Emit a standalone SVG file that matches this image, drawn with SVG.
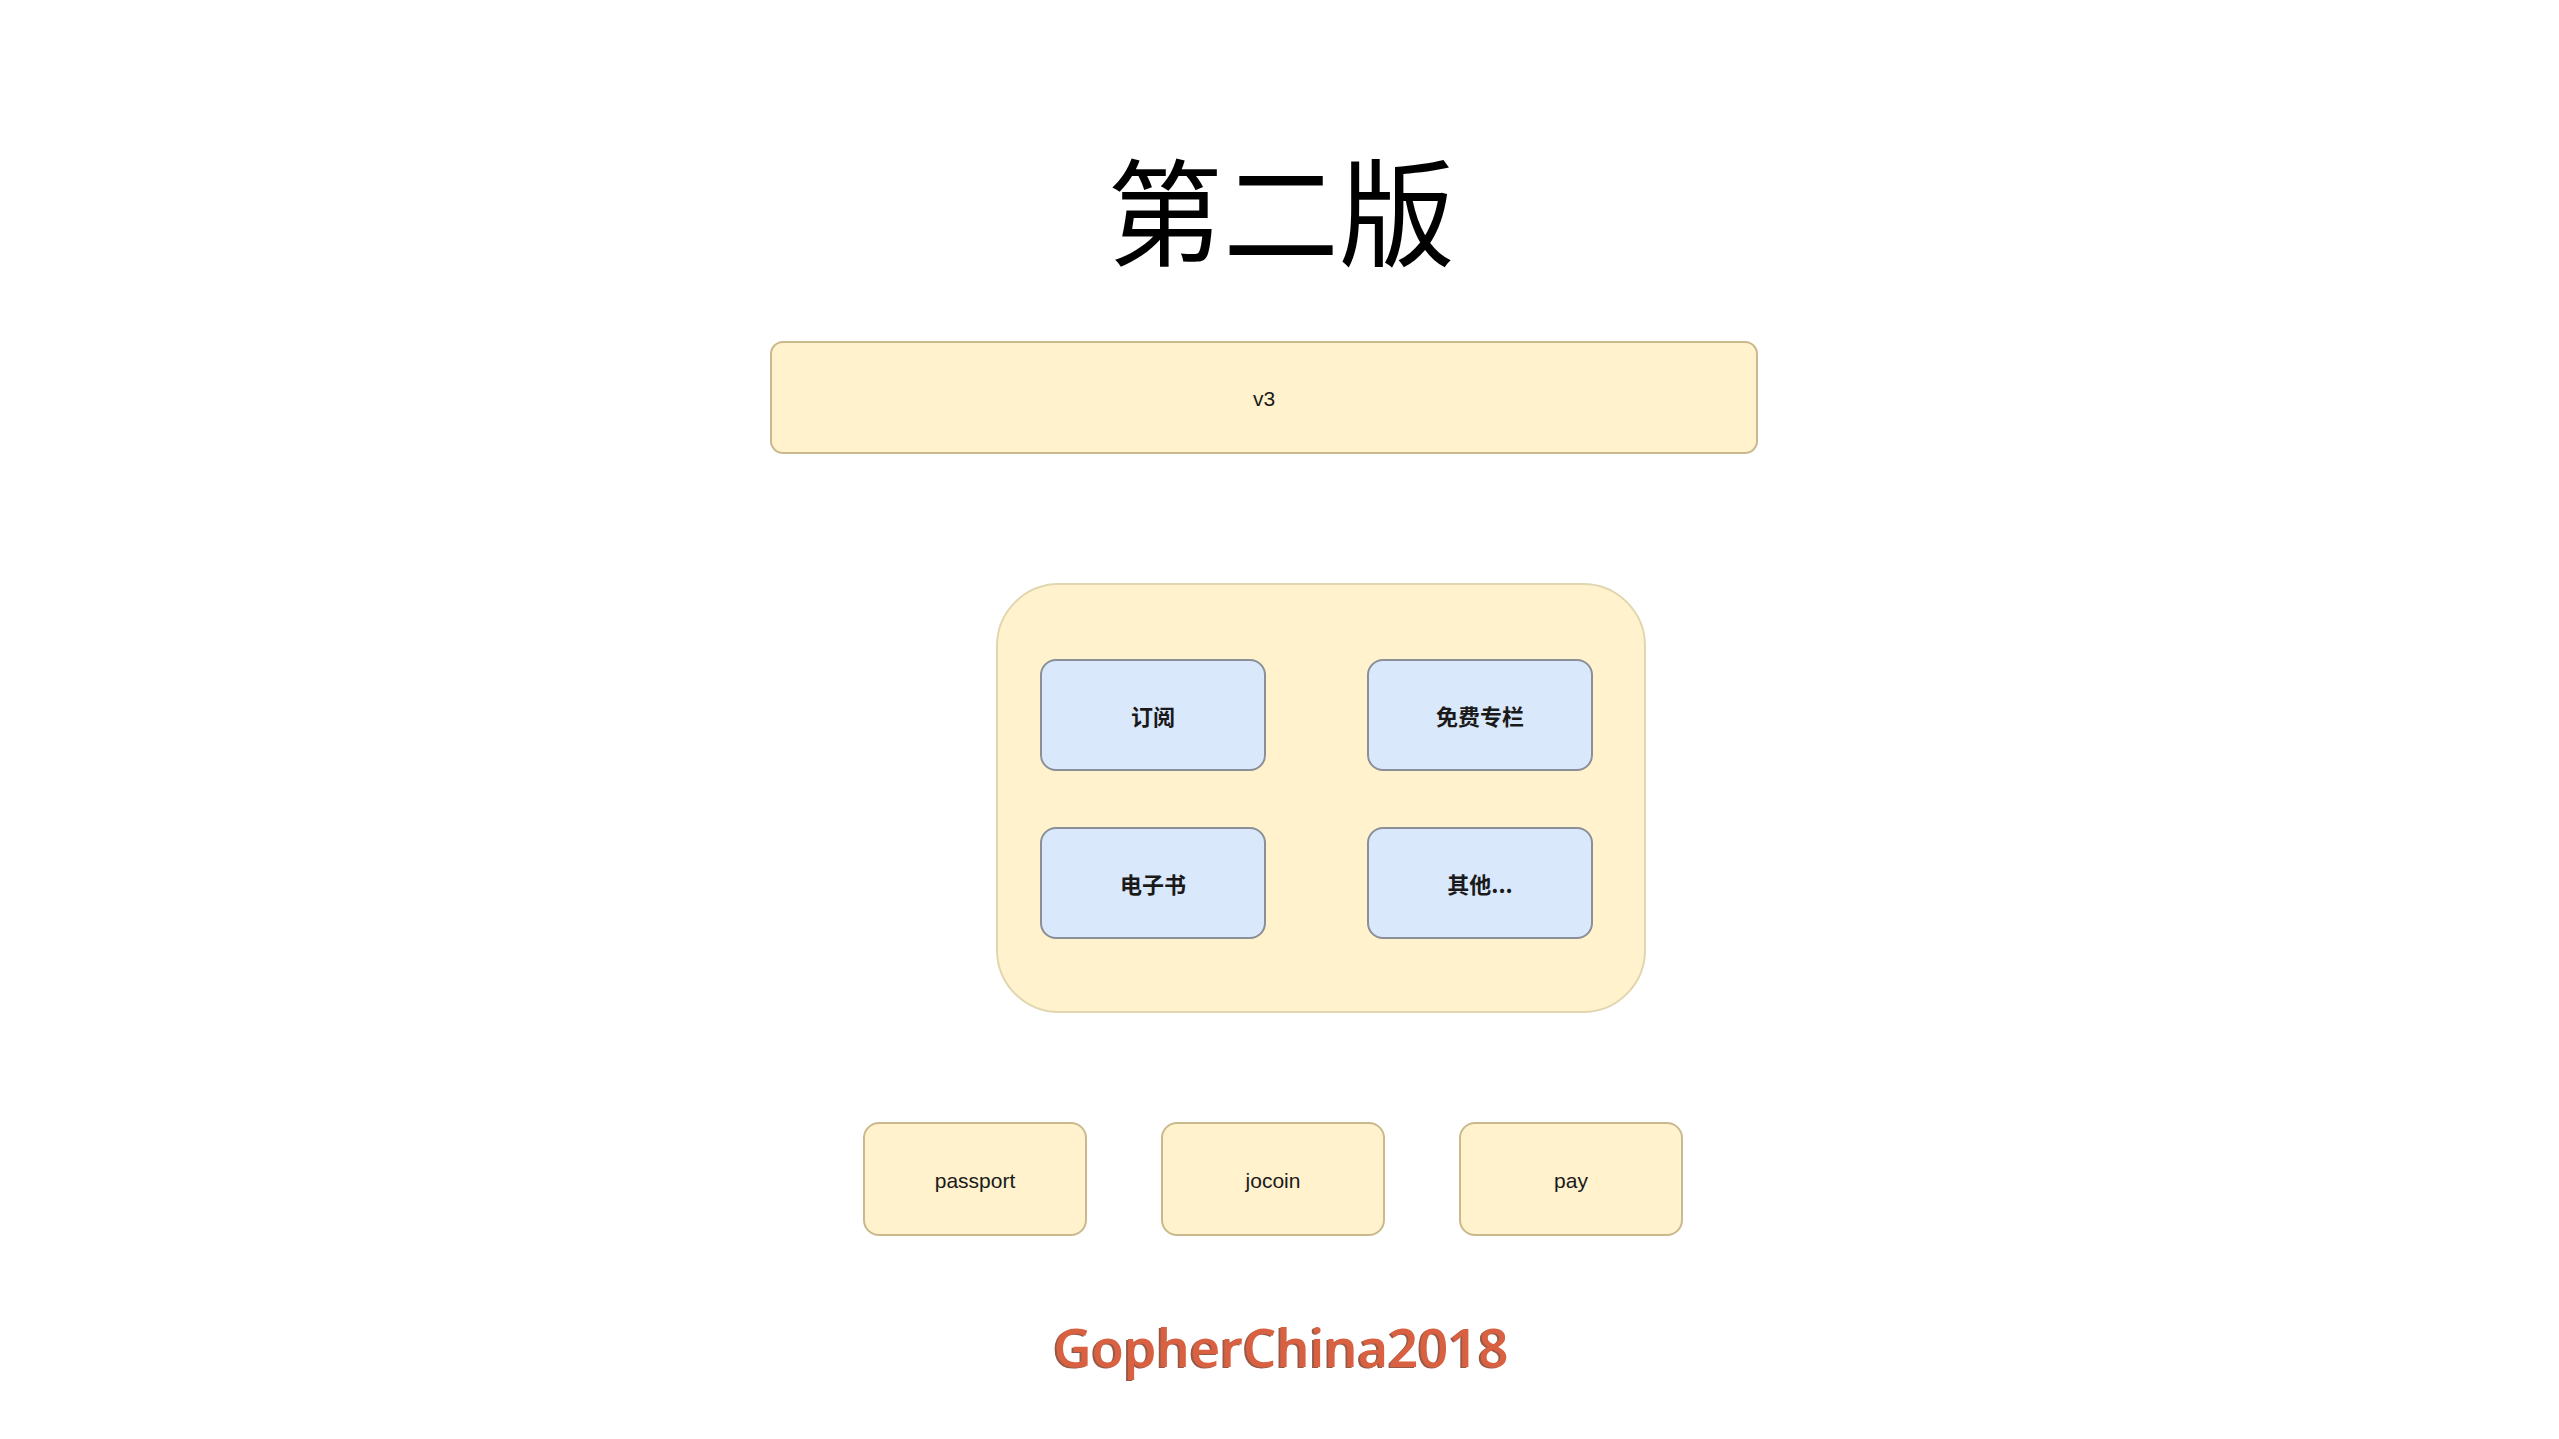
<svg xmlns="http://www.w3.org/2000/svg" width="2559" height="1439" viewBox="0 0 2559 1439">
  <defs>
    <style>
      .yellow { fill: #fff2cc; stroke: #c9b98c; stroke-width: 2; }
      .blue { fill: #dae8fc; stroke: #8a8f98; stroke-width: 2; }
      .label { font-family: "Liberation Sans", Arial, "Noto Sans CJK SC", sans-serif; fill: #1a1a1a; text-anchor: middle; dominant-baseline: central; }
      .cjk { font-family: "Noto Sans CJK SC", "Liberation Sans", sans-serif; font-weight: bold; font-size: 22px; }
      .en { font-size: 21px; }
    </style>
    <filter id="shadow" x="-5%" y="-20%" width="110%" height="140%">
      <feDropShadow dx="-2" dy="1" stdDeviation="0.6" flood-color="#7a2e1e" flood-opacity="0.8"/>
    </filter>
  </defs>
  <rect width="2559" height="1439" fill="#ffffff"/>

  <g id="title">
    <text x="1281" y="257" font-family="Noto Sans CJK SC, sans-serif" font-size="116" fill="#000000" text-anchor="middle">第二版</text>
  </g>

  <g id="connectors"></g>

  <g id="v3">
    <rect class="yellow" x="771" y="342" width="986" height="111" rx="12"/>
    <text class="label en" x="1264" y="398" font-size="18">v3</text>
  </g>

  <g id="container">
    <rect x="997" y="584" width="648" height="428" rx="62" fill="#fff2cc" stroke="#e0d6b0" stroke-width="2"/>
  </g>

  <g id="subscribe">
    <rect class="blue" x="1041" y="660" width="224" height="110" rx="15"/>
    <text class="label cjk" x="1153" y="715">订阅</text>
  </g>
  <g id="free-column">
    <rect class="blue" x="1368" y="660" width="224" height="110" rx="15"/>
    <text class="label cjk" x="1480" y="715">免费专栏</text>
  </g>
  <g id="ebook">
    <rect class="blue" x="1041" y="828" width="224" height="110" rx="15"/>
    <text class="label cjk" x="1153" y="883">电子书</text>
  </g>
  <g id="other">
    <rect class="blue" x="1368" y="828" width="224" height="110" rx="15"/>
    <text class="label cjk" x="1480" y="883">其他...</text>
  </g>

  <g id="passport">
    <rect class="yellow" x="864" y="1123" width="222" height="112" rx="15"/>
    <text class="label en" x="975" y="1180">passport</text>
  </g>
  <g id="jocoin">
    <rect class="yellow" x="1162" y="1123" width="222" height="112" rx="15"/>
    <text class="label en" x="1273" y="1180">jocoin</text>
  </g>
  <g id="pay">
    <rect class="yellow" x="1460" y="1123" width="222" height="112" rx="15"/>
    <text class="label en" x="1571" y="1180">pay</text>
  </g>

  <g id="footer">
    <text x="1281" y="1367" font-family="Open Sans, Noto Sans, sans-serif" font-weight="600" font-size="52" fill="#d9603f" text-anchor="middle" textLength="455" lengthAdjust="spacingAndGlyphs" filter="url(#shadow)">GopherChina2018</text>
  </g>
</svg>
